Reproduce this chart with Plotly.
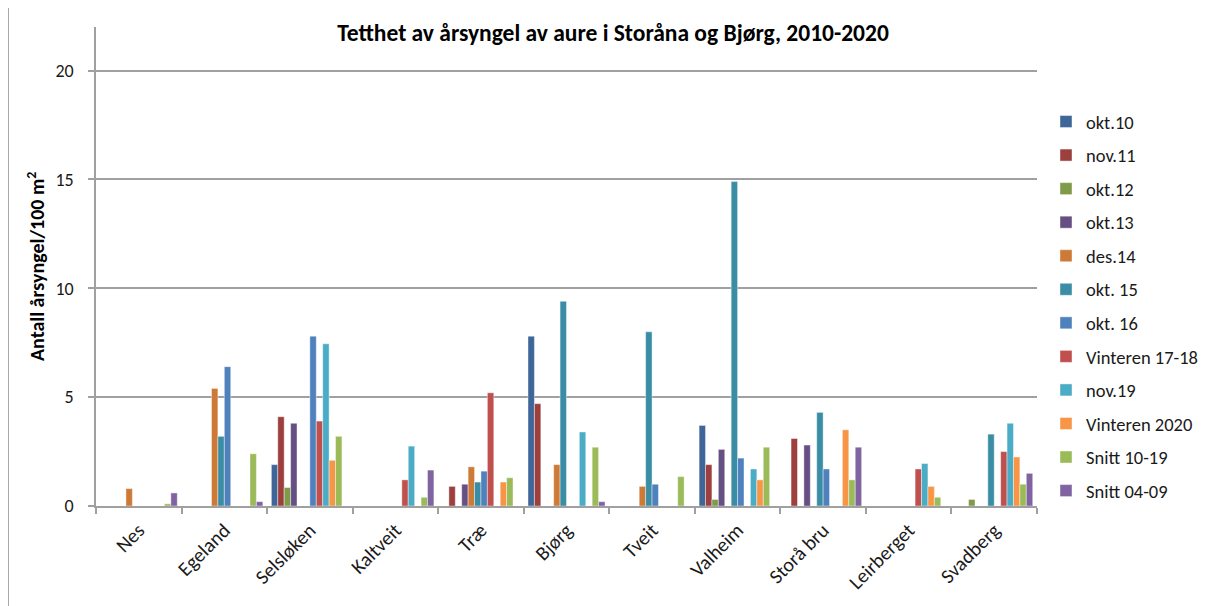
import plotly.graph_objects as go

categories = ["Nes", "Egeland", "Selsløken", "Kaltveit", "Træ", "Bjørg", "Tveit",
              "Valheim", "Storå bru", "Leirberget", "Svadberg"]

series_names = ["okt.10", "nov.11", "okt.12", "okt.13", "des.14", "okt. 15", "okt. 16",
                "Vinteren 17-18", "nov.19", "Vinteren 2020", "Snitt 10-19", "Snitt 04-09"]

okt10 = [None, None, 1.9, None, None, 7.8, None, 3.7, None, None, None]
nov11 = [None, None, 4.1, None, 0.9, 4.7, None, 1.9, 3.1, None, None]
okt12 = [None, None, 0.85, None, None, None, None, 0.3, None, None, 0.3]
okt13 = [None, None, 3.8, None, 1.0, None, None, 2.6, 2.8, None, None]
des14 = [0.8, 5.4, None, None, 1.8, 1.9, 0.9, None, None, None, None]
okt15 = [None, 3.2, None, None, 1.1, 9.4, 8.0, 14.9, 4.3, None, 3.3]
okt16 = [None, 6.4, 7.8, None, 1.6, None, 1.0, 2.2, 1.7, None, None]
vint1718 = [None, None, 3.9, 1.2, 5.2, None, None, None, None, 1.7, 2.5]
nov19 = [None, None, 7.45, 2.75, None, 3.4, None, 1.7, None, 1.95, 3.8]
vint2020 = [None, None, 2.1, None, 1.1, None, None, 1.2, 3.5, 0.9, 2.25]
snitt1019 = [0.1, 2.4, 3.2, 0.4, 1.3, 2.7, 1.35, 2.7, 1.2, 0.4, 1.0]
snitt0409 = [0.6, 0.2, None, 1.65, None, 0.2, None, None, 2.7, None, 1.5]

series_values = [okt10, nov11, okt12, okt13, des14, okt15, okt16,
                 vint1718, nov19, vint2020, snitt1019, snitt0409]

colors = ["#3F6699", "#9C3F3D", "#7F9A48", "#664F82", "#CC7A35", "#3A8DA5",
          "#4F81BD", "#C0504D", "#4BACC6", "#F79646", "#9BBB59", "#8064A2"]

y_ticks = [0, 5, 10, 15, 20]

FONT = "Carlito, Calibri, Lato, sans-serif"

fig = go.Figure()
for name, vals, col in zip(series_names, series_values, colors):
    fig.add_trace(go.Bar(
        x=categories, y=vals, name=name, legendgroup=name,
        marker=dict(color=col, line=dict(color="rgba(255,255,255,0.7)", width=0.6)),
    ))

OFF = 8  # page body margin
W, H = 1215 - OFF, 606 - OFF
# plot area in page coordinates
PL, PR, PT, PB = 96, 1037, 27, 506
L, R, T, B = PL - OFF, PR - OFF, PT - OFF, PB - OFF
pw, ph = R - L, B - T

def px_x(page_x):
    return (page_x - OFF - L) / pw

def px_y(page_y):
    return (B - (page_y - OFF)) / ph

fig.update_layout(
    width=W, height=H,
    margin=dict(l=L, r=W - R, t=T, b=H - B, pad=0, autoexpand=False),
    paper_bgcolor="white", plot_bgcolor="white",
    barmode="group", bargap=0.1, bargroupgap=0,
    font=dict(family=FONT, size=19, color="#1a1a1a"),
    title=dict(text="<b>Tetthet av årsyngel av aure i Storåna og Bjørg, 2010-2020</b>",
               x=px_x(613), xref="paper", xanchor="center",
               y=1 - (33 - OFF) / H, yref="container", yanchor="middle",
               font=dict(family=FONT, size=23.5, color="#000")),
    xaxis=dict(
        type="category", tickangle=-45, tickson="boundaries",
        ticks="outside", ticklen=6, tickwidth=1.5, tickcolor="#A0A0A0",
        showline=True, linecolor="#A0A0A0", linewidth=1.5,
        showgrid=False, tickfont=dict(family=FONT, size=20, color="#1a1a1a"),
        ticklabelstandoff=3,
    ),
    yaxis=dict(
        range=[0, 22], tickvals=y_ticks, ticktext=[str(v) for v in y_ticks],
        ticks="outside", ticklen=6, tickwidth=1.5, tickcolor="#A0A0A0",
        showline=True, linecolor="#A0A0A0", linewidth=1.5,
        showgrid=True, gridcolor="#A0A0A0", gridwidth=1.5,
        zeroline=False, tickfont=dict(family=FONT, size=18, color="#1a1a1a"),
        ticklabelstandoff=11,
    ),
    legend=dict(
        x=px_x(1046), xanchor="left", y=px_y(103), yanchor="top",
        font=dict(family=FONT, size=18.5, color="#1a1a1a"),
        tracegroupgap=6.5, itemwidth=30, bgcolor="rgba(0,0,0,0)",
        traceorder="grouped",
    ),
    showlegend=True,
    shapes=[dict(type="rect", xref="paper", yref="paper",
                 x0=px_x(8), x1=px_x(1260), y0=px_y(650), y1=px_y(6),
                 line=dict(color="#8C8C8C", width=1.5), fillcolor="rgba(0,0,0,0)",
                 layer="below")],
    annotations=[dict(text="<b>Antall årsyngel/100 m<sup>2</sup></b>",
                      x=px_x(36), y=px_y(267), xref="paper", yref="paper",
                      xanchor="center", yanchor="middle", textangle=-90,
                      showarrow=False, font=dict(family=FONT, size=20, color="#000"))],
)

fig.write_html("out.html")
